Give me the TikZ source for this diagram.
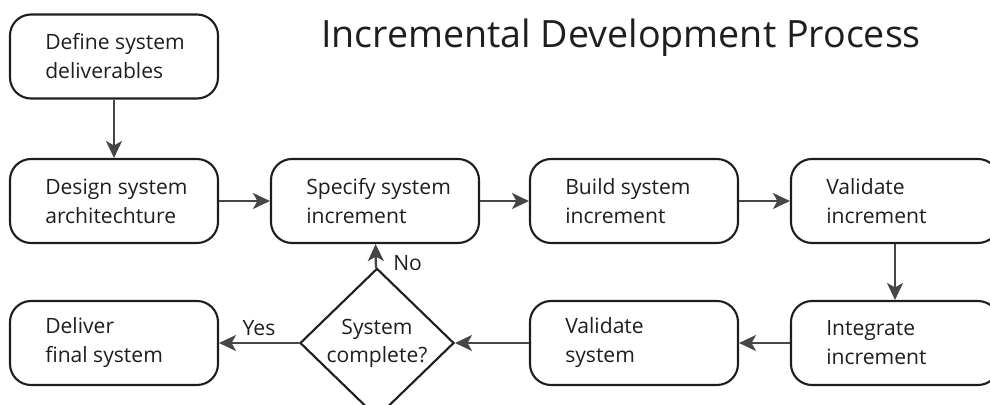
\documentclass[tikz,border=0pt]{standalone}
\usepackage{fontspec}
\setmainfont{Open Sans}
\usetikzlibrary{positioning, arrows.meta, shapes.geometric}
\definecolor{tinta}{RGB}{30, 30, 30}
\definecolor{linea}{RGB}{70, 70, 70}
\tikzset{
    proc/.style={draw=tinta, rectangle, rounded corners=0.42cm, line width=1.2pt, minimum width=4.16cm, minimum height=1.68cm},
    txt/.style={text=tinta, align=left, inner sep=0pt, font=\fontsize{12}{16.5}\selectfont},
    deci/.style={draw=tinta, diamond, line width=1.2pt, minimum width=3.08cm, minimum height=2.56cm, inner sep=0pt, align=center, text=tinta, font=\fontsize{12}{16}\selectfont},
    conn/.style={-{Stealth[length=0.34cm, width=0.32cm, inset=0.09cm]}, linea, line width=1.3pt},
    lbl/.style={text=tinta, font=\fontsize{12}{14}\selectfont},
}
\begin{document}
\begin{tikzpicture}
    \useasboundingbox (0,0) rectangle (19.8,-8.08);

    \node[text=tinta, font=\fontsize{21.4}{25}\selectfont] (title) at (12.42,-0.76) {Incremental Development Process};

    % top box
    \node[proc] (define) at (2.28,-1.13) {};
    \node[txt, right=0.72cm of define.west] (define-t) {Define system\\deliverables};

    % second row
    \node[proc] (design) at (2.28,-4.02) {};
    \node[txt, right=0.72cm of design.west] (design-t) {Design system\\architechture};
    \node[proc] (specify) at (7.5,-4.02) {};
    \node[txt, right=0.72cm of specify.west] (specify-t) {Specify system\\increment};
    \node[proc] (build) at (12.68,-4.02) {};
    \node[txt, right=0.72cm of build.west] (build-t) {Build system\\increment};
    \node[proc] (valinc) at (17.9,-4.02) {};
    \node[txt, right=0.72cm of valinc.west] (valinc-t) {Validate\\increment};

    % third row
    \node[proc] (deliver) at (2.28,-6.86) {};
    \node[txt, right=0.72cm of deliver.west] (deliver-t) {Deliver\\final system};
    \node[deci] (check) at (7.54,-6.86) {System\\complete?};
    \node[proc] (valsys) at (12.68,-6.86) {};
    \node[txt, right=0.72cm of valsys.west] (valsys-t) {Validate\\system};
    \node[proc] (integ) at (17.9,-6.86) {};
    \node[txt, right=0.72cm of integ.west] (integ-t) {Integrate\\increment};

    \draw[conn] (define) -- (design);
    \draw[conn] (design) -- (specify);
    \draw[conn] (specify) -- (build);
    \draw[conn] (build) -- (valinc);
    \draw[conn] (valinc) -- (integ);
    \draw[conn] (integ) -- (valsys);
    \draw[conn] (valsys) -- (check);
    \draw[conn] (check) -- node[lbl, above=0pt] (yes) {Yes} (deliver);
    \draw[conn] (check) -- node[lbl, right=6pt, yshift=-0.14cm] (no) {No} (specify);
\end{tikzpicture}
\end{document}
